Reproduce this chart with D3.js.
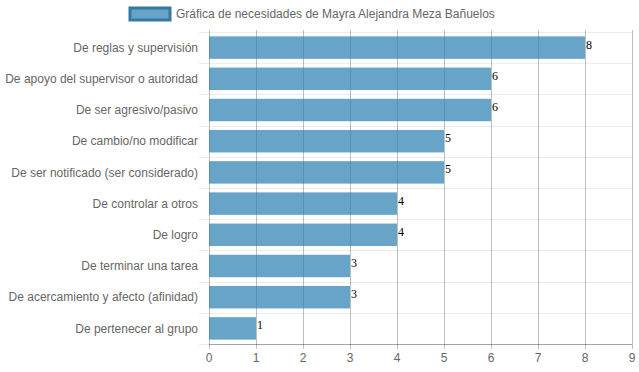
<!DOCTYPE html>
<html>
<head>
<meta charset="utf-8">
<script src="https://cdn.jsdelivr.net/npm/d3@7"></script>
<style>
  body { margin: 0; background: #fff; }
  text { font-family: "Liberation Sans", Arial, sans-serif; }
</style>
</head>
<body>
<svg id="chart" width="639" height="372"></svg>
<script>
const categories = [
  "De reglas y supervisión",
  "De apoyo del supervisor o autoridad",
  "De ser agresivo/pasivo",
  "De cambio/no modificar",
  "De ser notificado (ser considerado)",
  "De controlar a otros",
  "De logro",
  "De terminar una tarea",
  "De acercamiento y afecto (afinidad)",
  "De pertenecer al grupo"
];
const values = [8, 6, 6, 5, 5, 4, 4, 3, 3, 1];
const xTicks = [0, 1, 2, 3, 4, 5, 6, 7, 8, 9];
const seriesName = "Gráfica de necesidades de Mayra Alejandra Meza Bañuelos";

const svg = d3.select("#chart");
const margin = { top: 32, right: 7, bottom: 28, left: 209 };
const width = +svg.attr("width");
const height = +svg.attr("height");

const x = d3.scaleLinear().domain([0, 9]).range([margin.left, width - margin.right]);
const y = d3.scaleBand().domain(categories).range([margin.top, height - margin.bottom]);

// horizontal category grid lines
svg.append("g")
  .selectAll("line")
  .data(d3.range(categories.length + 1))
  .join("line")
  .attr("x1", margin.left - 10)
  .attr("x2", width - margin.right)
  .attr("y1", i => Math.round(margin.top + i * y.step()) + 0.5)
  .attr("y2", i => Math.round(margin.top + i * y.step()) + 0.5)
  .attr("stroke", "rgba(0,0,0,0.07)")
  .attr("stroke-width", 1);

// vertical value grid lines
svg.append("g")
  .selectAll("line")
  .data(xTicks)
  .join("line")
  .attr("x1", d => Math.round(x(d)) + 0.5)
  .attr("x2", d => Math.round(x(d)) + 0.5)
  .attr("y1", margin.top - 2)
  .attr("y2", height - margin.bottom + 5)
  .attr("stroke", "rgba(0,0,0,0.25)")
  .attr("stroke-width", 1);

// bottom axis line
svg.append("line")
  .attr("x1", margin.left)
  .attr("x2", width - margin.right)
  .attr("y1", height - margin.bottom + 0.5)
  .attr("y2", height - margin.bottom + 0.5)
  .attr("stroke", "rgba(0,0,0,0.3)");

// bars
const barH = y.step() * 0.72;
svg.append("g")
  .selectAll("rect")
  .data(categories)
  .join("rect")
  .attr("x", x(0))
  .attr("y", (d) => y(d) + (y.step() - barH) / 2)
  .attr("width", (d, i) => x(values[i]) - x(0))
  .attr("height", barH)
  .attr("fill", "rgba(40,125,175,0.7)");

// value labels
svg.append("g")
  .selectAll("text")
  .data(categories)
  .join("text")
  .attr("x", (d, i) => x(values[i]) + 1)
  .attr("y", d => y(d) + y.step() / 2 + 1)
  .style("font-family", "'Liberation Serif', 'Times New Roman', serif")
  .attr("font-size", 12)
  .attr("fill", "#000")
  .text((d, i) => values[i]);

// y labels
svg.append("g")
  .selectAll("text")
  .data(categories)
  .join("text")
  .attr("x", margin.left - 11)
  .attr("y", d => y(d) + y.step() / 2)
  .attr("dy", "0.35em")
  .attr("text-anchor", "end")
  .attr("font-size", 12)
  .attr("fill", "#666")
  .text(d => d);

// x tick labels
svg.append("g")
  .selectAll("text")
  .data(xTicks)
  .join("text")
  .attr("x", d => x(d))
  .attr("y", height - margin.bottom + 14)
  .attr("dy", "0.35em")
  .attr("text-anchor", "middle")
  .attr("font-size", 12)
  .attr("fill", "#666")
  .text(d => d);

// legend
const legend = svg.append("g");
legend.append("rect")
  .attr("x", 130)
  .attr("y", 8)
  .attr("width", 40)
  .attr("height", 12)
  .attr("fill", "rgba(40,125,175,0.7)")
  .attr("stroke", "#3579a3")
  .attr("stroke-width", 3);
legend.append("text")
  .attr("x", 176)
  .attr("y", 14)
  .attr("dy", "0.35em")
  .attr("font-size", 12)
  .attr("fill", "#666")
  .text(seriesName);
</script>
</body>
</html>
